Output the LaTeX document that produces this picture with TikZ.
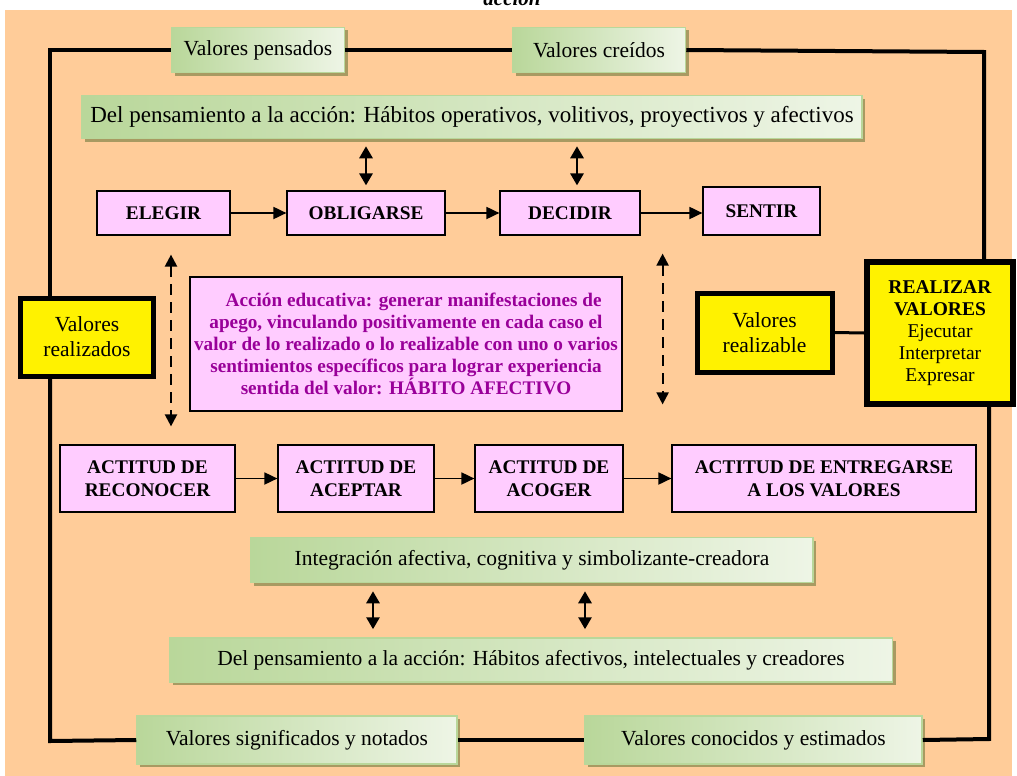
\documentclass[tikz,border=0pt]{standalone}
\usepackage{fontspec}
\setmainfont{Liberation Serif}
\usetikzlibrary{positioning,arrows.meta,shadows}

\definecolor{peach}{HTML}{FFCC99}
\definecolor{gdark}{HTML}{B9D79A}
\definecolor{glight}{HTML}{EEF5E6}
\definecolor{olive}{HTML}{A89A62}
\definecolor{pinkfill}{HTML}{FFCCFF}
\definecolor{purpletext}{HTML}{990099}

\begin{document}
\begin{tikzpicture}[x=1pt,y=-1pt]
	% Define styles
	\tikzstyle{greenbox} = [rectangle, draw=gdark, line width=1.5pt, left color=gdark, right color=glight,
	drop shadow={shadow xshift=3pt, shadow yshift=-3pt, fill=olive, opacity=1},
	text centered, inner sep=2pt, font=\fontsize{21.5}{24}\selectfont]
	\tikzstyle{pinkbox} = [rectangle, draw, fill=pinkfill, line width=1.2pt, align=center,
	inner sep=2pt, font=\fontsize{19.3}{23}\selectfont\bfseries]
	\tikzstyle{yellowbox} = [rectangle, draw, fill=yellow, line width=5pt, align=center,
	inner sep=2pt, font=\fontsize{21.5}{25}\selectfont]
	\tikzstyle{arrow} = [line width=1.8pt, -{Triangle[length=13pt,width=12pt]}]
	\tikzstyle{twoway} = [line width=2.8pt, {Triangle[length=12pt,width=13pt]}-{Triangle[length=12pt,width=13pt]}]
	\tikzstyle{dashtwoway} = [line width=2.2pt, dash pattern=on 11pt off 7pt,
	{Triangle[length=12pt,width=12pt]}-{Triangle[length=12pt,width=12pt]}]
	\tikzstyle{loop} = [line width=4pt]
	
	% Page and background
	\useasboundingbox (0,0) rectangle (1017,776);
	\clip (0,0) rectangle (1017,776);
	\fill[white] (0,0) rectangle (1017,776);
	\fill[peach] (5,10) rectangle (1012,776);
	\node[anchor=base, font=\fontsize{21}{22}\selectfont\bfseries\itshape] (title) at (512,6) {acción};
	
	% Place nodes
	\node[greenbox, minimum width=173, minimum height=45] (pensados) at (258,50) {Valores pensados};
	\node[greenbox, minimum width=173, minimum height=45] (creidos) at (599,50) {Valores creídos};
	\node[greenbox, minimum width=780, minimum height=43, font=\fontsize{23}{25}\selectfont] (habop) at (472,117)
	{Del pensamiento a la acción: Hábitos operativos, volitivos, proyectivos y afectivos};
	
	\node[pinkbox, minimum width=133, minimum height=44] (elegir) at (163.5,213) {ELEGIR};
	\node[pinkbox, minimum width=158, minimum height=44] (obligarse) at (366,213) {OBLIGARSE};
	\node[pinkbox, minimum width=140, minimum height=44] (decidir) at (570,213) {DECIDIR};
	\node[pinkbox, minimum width=117, minimum height=48] (sentir) at (761.5,211) {SENTIR};
	
	\node[yellowbox, minimum width=133, minimum height=78] (realizados) at (87,337) {Valores\\realizados};
	\node[pinkbox, minimum width=432, minimum height=134, text=purpletext, font=\fontsize{19.2}{22}\selectfont\bfseries]
	(educ) at (406,344) {\hspace*{0.8em}Acción educativa: generar manifestaciones de\\
	apego, vinculando positivamente en cada caso el\\
	valor de lo realizado o lo realizable con uno o varios\\
	sentimientos específicos para lograr experiencia\\
	sentida del valor: HÁBITO AFECTIVO};
	\node[yellowbox, minimum width=135, minimum height=79] (realizable) at (764.5,332.5) {Valores\\realizable};
	\node[yellowbox, line width=6pt, minimum width=146, minimum height=142, font=\fontsize{19.5}{22}\selectfont]
	(realizar) at (940,333) {\textbf{REALIZAR}\\\textbf{VALORES}\\Ejecutar\\Interpretar\\Expresar};
	
	\node[pinkbox, minimum width=175, minimum height=67] (reconocer) at (147.5,478.5) {ACTITUD DE\\RECONOCER};
	\node[pinkbox, minimum width=156, minimum height=67] (aceptar) at (356,478.5) {ACTITUD DE\\ACEPTAR};
	\node[pinkbox, minimum width=148, minimum height=67] (acoger) at (549,478.5) {ACTITUD DE\\ACOGER};
	\node[pinkbox, minimum width=304, minimum height=67] (entregarse) at (824,478.5) {ACTITUD DE ENTREGARSE\\A LOS VALORES};
	
	\node[greenbox, minimum width=562, minimum height=45] (integracion) at (532,560)
	{Integración afectiva, cognitiva y simbolizante-creadora};
	\node[greenbox, minimum width=723, minimum height=44] (habaf) at (531,660)
	{Del pensamiento a la acción: Hábitos afectivos, intelectuales y creadores};
	\node[greenbox, minimum width=320, minimum height=48] (significados) at (297,740) {Valores significados y notados};
	\node[greenbox, minimum width=337, minimum height=48] (conocidos) at (753.5,740) {Valores conocidos y estimados};
	
	% Corners of the outer loop
	\coordinate (tl) at (50,50);
	\coordinate (tr) at (984,52);
	\coordinate (bl) at (50,741);
	\coordinate (br) at (989,739);
	
	% Draw the outer loop
	\draw[loop] (pensados.west) -- (tl) -- (tl |- realizados.north);
	\draw[loop] (realizados.south -| bl) -- (bl) -- (significados.west);
	\draw[loop] (pensados.east) -- (creidos.west);
	\draw[loop] (creidos.east) -- (tr) -- (tr |- realizar.north);
	\draw[loop] (realizar.south -| br) -- (br) -- (conocidos.east);
	\draw[loop] (significados.east) -- (conocidos.west);
	\draw[line width=3pt] (realizable.east) -- (realizar.west);
	
	% Draw arrows
	\draw[arrow] (elegir) -- (obligarse);
	\draw[arrow] (obligarse) -- (decidir);
	\draw[arrow] (decidir) -- (decidir -| sentir.west);
	\draw[arrow] (reconocer) -- (aceptar);
	\draw[arrow] (aceptar) -- (acoger);
	\draw[arrow] (acoger) -- (entregarse);
	
	\draw[twoway, shorten <=7pt, shorten >=5pt] (obligarse.north |- habop.south) -- (obligarse.north);
	\draw[twoway, shorten <=7pt, shorten >=5pt] ([xshift=7pt]decidir.north |- habop.south) -- ([xshift=7pt]decidir.north);
	\draw[twoway, shorten <=8pt, shorten >=8pt] ([xshift=17pt]aceptar.south |- integracion.south) -- ([xshift=17pt]aceptar.south |- habaf.north);
	\draw[twoway, shorten <=8pt, shorten >=8pt] ([xshift=36pt]acoger.south |- integracion.south) -- ([xshift=36pt]acoger.south |- habaf.north);
	
	\draw[dashtwoway, shorten <=19pt, shorten >=18pt] ([xshift=7.5pt]elegir.south) -- ([xshift=7.5pt]elegir.south |- reconocer.north);
	\draw[dashtwoway, shorten <=18pt, shorten >=40pt] ([xshift=22pt]decidir.south east) -- ([xshift=22pt]decidir.south east |- acoger.north);
\end{tikzpicture}
\end{document}
